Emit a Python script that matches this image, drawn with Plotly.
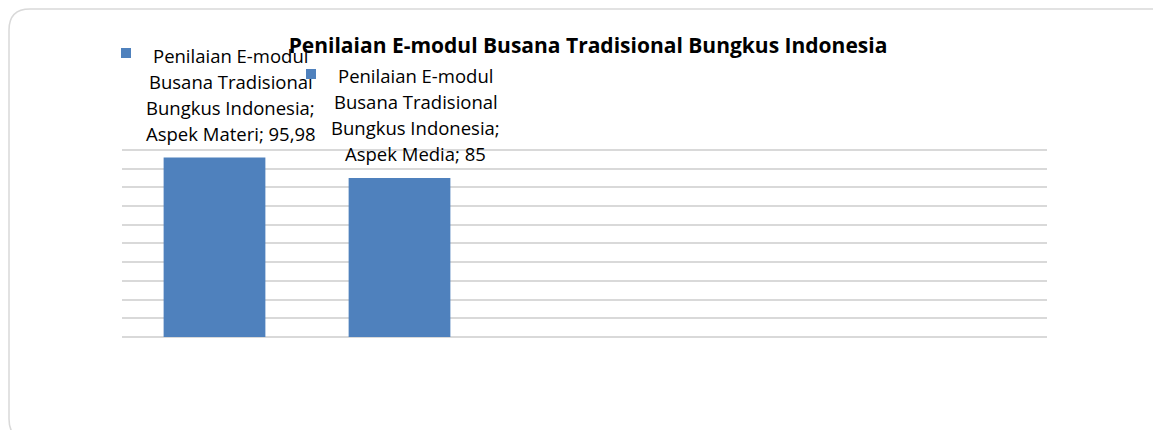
import plotly.graph_objects as go

# ---- data ----
categories = ["Aspek Materi", "Aspek Media"]
values = [95.98, 85]
value_labels = ["95,98", "85"]
series_name = "Penilaian E-modul Busana Tradisional Bungkus Indonesia"
name_lines = ["Penilaian E-modul", "Busana Tradisional", "Bungkus Indonesia;"]
slot_count = 5  # category slots on the axis (3 empty)

BAR_COLOR = "#4f81bd"
GRID_COLOR = "#d9d9d9"
FONT = "Open Sans"

OFF = 8  # page body margin
W, H = 1161 - OFF, 430 - OFF
Y_TOP = 101
ML, MR = 122 - OFF, 1161 - 1047
MB = 430 - 337
MT = H - MB - round(187 * Y_TOP / 100)

fig = go.Figure()
fig.add_trace(go.Bar(
    x=categories, y=values, marker_color=BAR_COLOR, marker_line_width=0,
    width=0.55, name=series_name, showlegend=False, hoverinfo="x+y",
))

# data labels: one annotation per line, legend key square at the left
line_gap = 26
for cat, val, vl in zip(categories, values, value_labels):
    lines = name_lines + [f"{cat}; {vl}"]
    n = len(lines)
    for k, txt in enumerate(lines):
        fig.add_annotation(
            x=cat, y=val, xref="x", yref="y", text=txt, showarrow=False,
            xanchor="center", yanchor="middle",
            xshift=16, yshift=24 + (n - 1 - k) * line_gap,
            font=dict(family=FONT, size=18.5, color="#000000"),
        )
    fig.add_annotation(
        x=cat, y=val, xref="x", yref="y", text=" ", showarrow=False,
        xanchor="center", yanchor="middle", width=10, height=10,
        bgcolor=BAR_COLOR, borderpad=0, borderwidth=0,
        xshift=-89, yshift=24 + (n - 1) * line_gap + 2,
        font=dict(size=4),
    )

# rounded chart border (in pixels, converted to paper coords)
pw, ph = W - ML - MR, H - MT - MB
def px(X): return (X - OFF - ML) / pw
def py(Y): return (H - MB - (Y - OFF)) / ph
x0, y0, x1, y1, r = 9, 9, 1175, 440, 21
path = (f"M {px(x0)},{py(y0 + r)} Q {px(x0)},{py(y0)} {px(x0 + r)},{py(y0)} "
        f"L {px(x1 - r)},{py(y0)} Q {px(x1)},{py(y0)} {px(x1)},{py(y0 + r)} "
        f"L {px(x1)},{py(y1 - r)} Q {px(x1)},{py(y1)} {px(x1 - r)},{py(y1)} "
        f"L {px(x0 + r)},{py(y1)} Q {px(x0)},{py(y1)} {px(x0)},{py(y1 - r)} Z")
fig.add_shape(type="path", path=path, xref="paper", yref="paper",
              line=dict(color=GRID_COLOR, width=1.5), layer="below")

fig.update_layout(
    width=W, height=H,
    margin=dict(l=ML, r=MR, t=MT, b=MB, pad=0),
    paper_bgcolor="white", plot_bgcolor="white",
    title=dict(text=f"<b>{series_name}</b>", x=(588 - OFF) / W, xanchor="center",
               y=1 - (46 - OFF) / H, yanchor="middle", xref="container", yref="container",
               font=dict(family=FONT, size=21, color="#000000")),
    bargap=0.45,
    showlegend=False,
)
fig.update_xaxes(type="category", range=[-0.5, slot_count - 0.5],
                 showticklabels=False, showgrid=False, zeroline=False, showline=False,
                 ticks="")
fig.update_yaxes(range=[0, Y_TOP], dtick=10, showticklabels=False, showgrid=True,
                 gridcolor=GRID_COLOR, gridwidth=1.5, zeroline=True,
                 zerolinecolor=GRID_COLOR, zerolinewidth=1.5, showline=False, ticks="")

fig.write_html("out.html")
